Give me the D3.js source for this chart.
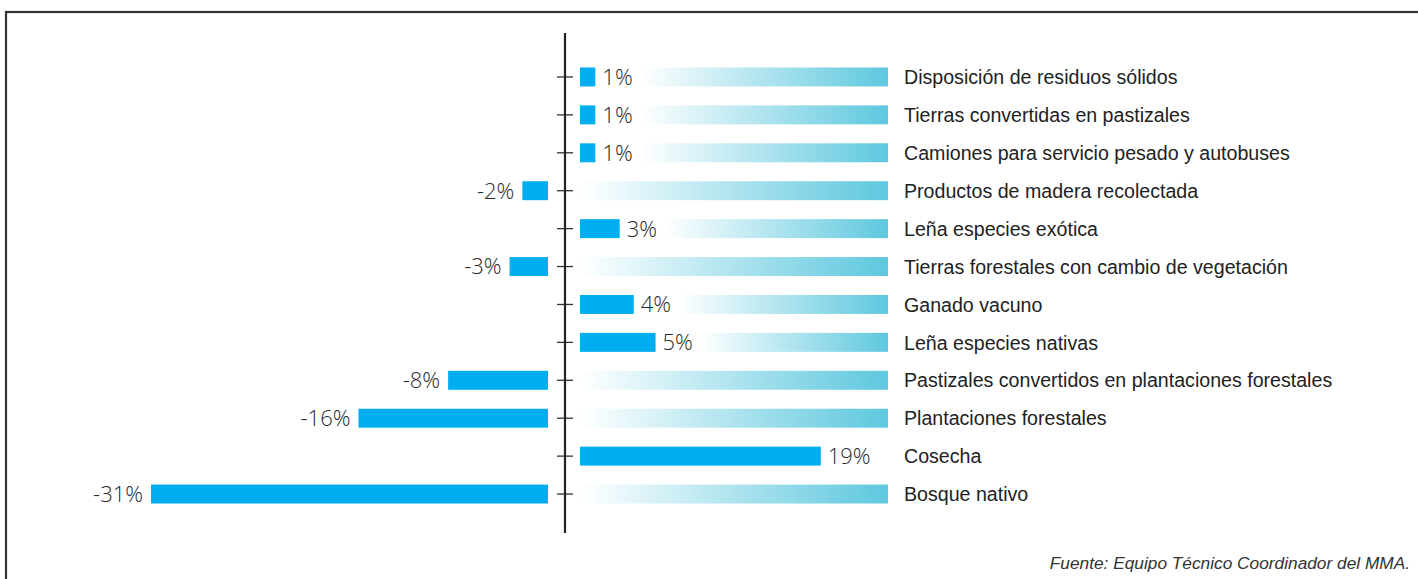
<!DOCTYPE html>
<html>
<head>
<meta charset="utf-8">
<script src="https://cdn.jsdelivr.net/npm/d3@7"></script>
<style>
  html, body { margin: 0; padding: 0; background: #fff; }
  svg { display: block; }
</style>
</head>
<body>
<div id="chart"></div>
<script>
// Variación por categoría (%), de arriba hacia abajo
const categories = [
  "Disposición de residuos sólidos",
  "Tierras convertidas en pastizales",
  "Camiones para servicio pesado y autobuses",
  "Productos de madera recolectada",
  "Leña especies exótica",
  "Tierras forestales con cambio de vegetación",
  "Ganado vacuno",
  "Leña especies nativas",
  "Pastizales convertidos en plantaciones forestales",
  "Plantaciones forestales",
  "Cosecha",
  "Bosque nativo"
];
const values = [1.2, 1.2, 1.2, -2.0, 3.1, -3.0, 4.2, 5.9, -7.8, -14.8, 18.8, -31.0];
const valueLabels = ["1%", "1%", "1%", "-2%", "3%", "-3%", "4%", "5%", "-8%", "-16%", "19%", "-31%"];
const sourceText = "Fuente: Equipo Técnico Coordinador del MMA.";

const width = 1418, height = 579;
const axisX = 565;       // eje vertical
const gapPos = 15, gapNeg = 17; // separación de las barras respecto del eje
const gradEnd = 888;     // fin de las barras degradadas
const labelX = 904;      // inicio de los nombres

const svg = d3.select("#chart").append("svg")
  .attr("width", width)
  .attr("height", height);

// degradado blanco -> celeste
const defs = svg.append("defs");
const grad = defs.append("linearGradient").attr("id", "fade");
grad.append("stop").attr("offset", "0%").attr("stop-color", "#ffffff");
grad.append("stop").attr("offset", "100%").attr("stop-color", "#5ec8de");

// marco
svg.append("rect")
  .attr("x", 6).attr("y", 12)
  .attr("width", width + 20).attr("height", height + 20)
  .attr("fill", "none")
  .attr("stroke", "#333")
  .attr("stroke-width", 2.2);

const y = d3.scaleBand()
  .domain(categories)
  .range([58, 513])
  .paddingInner(0.5)
  .paddingOuter(0.25);

// magnitud en pixeles
const len = d3.scaleLinear().domain([0, 31]).range([0, 397]);

const rows = categories.map((c, i) => ({ cat: c, v: values[i], label: valueLabels[i] }));

const g = svg.append("g");

// barras de valor
g.selectAll("rect.bar")
  .data(rows)
  .join("rect")
  .attr("class", "bar")
  .attr("x", d => d.v >= 0 ? axisX + gapPos : axisX - gapNeg - len(-d.v))
  .attr("y", d => y(d.cat))
  .attr("width", d => len(Math.abs(d.v)))
  .attr("height", y.bandwidth())
  .attr("fill", "#00adef");

// etiquetas de valor
const vl = g.selectAll("text.val")
  .data(rows)
  .join("text")
  .attr("class", "val")
  .attr("x", d => d.v >= 0 ? axisX + gapPos + len(d.v) + 7 : axisX - gapNeg - len(-d.v) - 8)
  .attr("y", d => y(d.cat) + y.bandwidth() / 2)
  .attr("dy", "0.36em")
  .attr("text-anchor", d => d.v >= 0 ? "start" : "end")
  .style("font-family", "'Open Sans', 'DejaVu Sans', sans-serif")
  .style("font-weight", 300)
  .style("font-size", "22px")
  .attr("fill", "#2a2a2a")
  .text(d => d.label);

// barras degradadas (comienzan despues de la etiqueta positiva)
const gradStart = [];
vl.each(function(d) {
  gradStart.push(d.v >= 0 ? axisX + gapPos + len(d.v) + 7 + this.getComputedTextLength() + 8 : axisX + gapPos);
});
rows.forEach((d, i) => { d.gs = gradStart[i]; });

g.selectAll("rect.fade")
  .data(rows.filter(d => gradEnd - d.gs > 40))
  .join("rect")
  .attr("class", "fade")
  .attr("x", d => d.gs)
  .attr("y", d => y(d.cat))
  .attr("width", d => gradEnd - d.gs)
  .attr("height", y.bandwidth())
  .attr("fill", "url(#fade)");

// nombres de categorias
g.selectAll("text.cat")
  .data(rows)
  .join("text")
  .attr("class", "cat")
  .attr("x", labelX)
  .attr("y", d => y(d.cat) + y.bandwidth() / 2)
  .attr("dy", "0.36em")
  .style("font-family", "'Liberation Sans', Arial, sans-serif")
  .style("font-size", "20px")
  .attr("fill", "#222")
  .attr("textLength", function(d) { return null; })
  .text(d => d.cat)
  .each(function() {
    // tipografia algo condensada
    const w = this.getComputedTextLength();
    d3.select(this).attr("textLength", w * 0.98).attr("lengthAdjust", "spacingAndGlyphs");
  });

// eje con marcas
const axis = d3.axisLeft(y).tickSize(8).tickFormat("");
const axisG = svg.append("g")
  .attr("transform", `translate(${axisX},0)`)
  .call(axis);
axisG.select(".domain").remove();
axisG.selectAll(".tick line")
  .attr("x1", -8).attr("x2", 8)
  .attr("stroke", "#333").attr("stroke-width", 1.3);
svg.append("line")
  .attr("x1", axisX).attr("x2", axisX)
  .attr("y1", 33).attr("y2", 533)
  .attr("stroke", "#222").attr("stroke-width", 2.2);

// fuente
svg.append("text")
  .attr("x", 1410).attr("y", 569)
  .attr("text-anchor", "end")
  .style("font-family", "'Liberation Sans', Arial, sans-serif")
  .style("font-style", "italic")
  .style("font-size", "17.3px")
  .attr("fill", "#333")
  .text(sourceText);
</script>
</body>
</html>
